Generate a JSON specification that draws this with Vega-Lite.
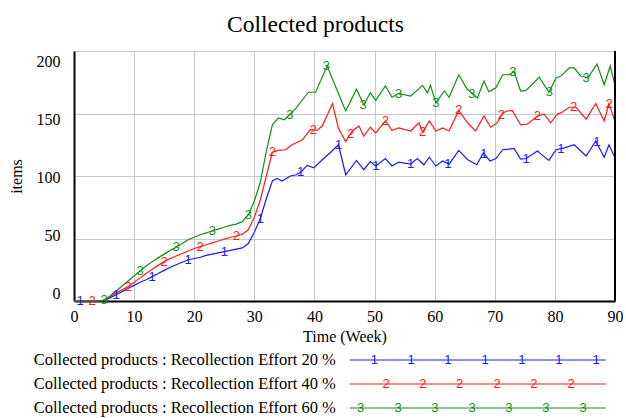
{
  "$schema": "https://vega.github.io/schema/vega-lite/v6.json",
  "padding": {"left": 8, "top": 12, "right": 0, "bottom": 0},
  "background": "white",
  "config": {
    "view": {"stroke": null},
    "font": "Liberation Serif",
    "axis": {"labelFont": "Liberation Serif", "titleFont": "Liberation Serif", "labelColor": "black", "titleColor": "black", "titleFontWeight": "normal"},
    "concat": {"spacing": 8}
  },
  "datasets": {
    "series": [
      {"s":"1","t":0,"v":0},{"s":"1","t":1,"v":0},{"s":"1","t":2,"v":0},{"s":"1","t":3,"v":0},{"s":"1","t":4,"v":0},{"s":"1","t":5,"v":0.5},{"s":"1","t":6,"v":2.5},{"s":"1","t":7,"v":5},{"s":"1","t":8,"v":7.5},{"s":"1","t":9,"v":10},{"s":"1","t":10,"v":12.5},{"s":"1","t":11,"v":15},{"s":"1","t":12,"v":17},{"s":"1","t":13,"v":19.5},{"s":"1","t":14,"v":22},{"s":"1","t":15,"v":24.5},{"s":"1","t":16,"v":27},{"s":"1","t":17,"v":29},{"s":"1","t":18,"v":31},{"s":"1","t":19,"v":33},{"s":"1","t":20,"v":34},{"s":"1","t":21,"v":35},{"s":"1","t":22,"v":36.5},{"s":"1","t":23,"v":37.5},{"s":"1","t":24,"v":38.5},{"s":"1","t":25,"v":39.5},{"s":"1","t":26,"v":40.5},{"s":"1","t":27,"v":41.5},{"s":"1","t":28,"v":42.5},{"s":"1","t":29,"v":46},{"s":"1","t":30,"v":55},{"s":"1","t":31,"v":66},{"s":"1","t":32,"v":82},{"s":"1","t":33,"v":96},{"s":"1","t":33.8,"v":98},{"s":"1","t":34.6,"v":96},{"s":"1","t":36,"v":100},{"s":"1","t":37,"v":101},{"s":"1","t":37.7,"v":103},{"s":"1","t":38.8,"v":108.5},{"s":"1","t":39.9,"v":106.5},{"s":"1","t":41.3,"v":113},{"s":"1","t":42.7,"v":119},{"s":"1","t":44,"v":125},{"s":"1","t":45.2,"v":101},{"s":"1","t":47,"v":112.5},{"s":"1","t":48.2,"v":105},{"s":"1","t":49.3,"v":111.5},{"s":"1","t":50.2,"v":108},{"s":"1","t":51.8,"v":114},{"s":"1","t":52.9,"v":108},{"s":"1","t":54,"v":111},{"s":"1","t":56,"v":109.5},{"s":"1","t":57.1,"v":114},{"s":"1","t":58.2,"v":109},{"s":"1","t":59.1,"v":115},{"s":"1","t":60.2,"v":108},{"s":"1","t":61.3,"v":112},{"s":"1","t":62.4,"v":109.5},{"s":"1","t":64,"v":120.5},{"s":"1","t":65.5,"v":113},{"s":"1","t":67,"v":109},{"s":"1","t":68.1,"v":118.5},{"s":"1","t":69.2,"v":112},{"s":"1","t":70.2,"v":114},{"s":"1","t":71.3,"v":121},{"s":"1","t":72.4,"v":121.5},{"s":"1","t":73.2,"v":122},{"s":"1","t":74.3,"v":113.5},{"s":"1","t":75.2,"v":114},{"s":"1","t":77.1,"v":120},{"s":"1","t":77.7,"v":117.5},{"s":"1","t":79,"v":112.5},{"s":"1","t":80.2,"v":121},{"s":"1","t":81.6,"v":122.5},{"s":"1","t":83.2,"v":125},{"s":"1","t":85.2,"v":116},{"s":"1","t":86.8,"v":128},{"s":"1","t":88.2,"v":115},{"s":"1","t":89,"v":125},{"s":"1","t":90,"v":114.5},
      {"s":"2","t":0,"v":0},{"s":"2","t":1,"v":0},{"s":"2","t":2,"v":0},{"s":"2","t":3,"v":0},{"s":"2","t":4,"v":0},{"s":"2","t":5,"v":0.5},{"s":"2","t":6,"v":3.5},{"s":"2","t":7,"v":6.5},{"s":"2","t":8,"v":9},{"s":"2","t":9,"v":11.5},{"s":"2","t":10,"v":15},{"s":"2","t":11,"v":18.5},{"s":"2","t":12,"v":22},{"s":"2","t":13,"v":25.5},{"s":"2","t":14,"v":28.5},{"s":"2","t":15,"v":31.5},{"s":"2","t":16,"v":34},{"s":"2","t":17,"v":36},{"s":"2","t":18,"v":38},{"s":"2","t":19,"v":40},{"s":"2","t":20,"v":42},{"s":"2","t":21,"v":43.5},{"s":"2","t":22,"v":45},{"s":"2","t":23,"v":46.5},{"s":"2","t":24,"v":48},{"s":"2","t":25,"v":49.5},{"s":"2","t":26,"v":51},{"s":"2","t":27,"v":52},{"s":"2","t":28,"v":53.5},{"s":"2","t":29,"v":57},{"s":"2","t":30,"v":67},{"s":"2","t":31,"v":81},{"s":"2","t":32,"v":100},{"s":"2","t":33,"v":119},{"s":"2","t":34,"v":120.5},{"s":"2","t":35.2,"v":121},{"s":"2","t":36.3,"v":125},{"s":"2","t":38,"v":129},{"s":"2","t":39.3,"v":137},{"s":"2","t":40.4,"v":136.5},{"s":"2","t":41.3,"v":140},{"s":"2","t":43,"v":158},{"s":"2","t":44,"v":138},{"s":"2","t":45.2,"v":127.5},{"s":"2","t":46.3,"v":136},{"s":"2","t":47.4,"v":140},{"s":"2","t":48.2,"v":132},{"s":"2","t":49.3,"v":139},{"s":"2","t":50.2,"v":134.5},{"s":"2","t":51.8,"v":144},{"s":"2","t":52.9,"v":136.5},{"s":"2","t":54,"v":138.5},{"s":"2","t":56,"v":136},{"s":"2","t":57.4,"v":142.5},{"s":"2","t":58,"v":135},{"s":"2","t":59.1,"v":144},{"s":"2","t":60.2,"v":136},{"s":"2","t":61.3,"v":138.5},{"s":"2","t":62.4,"v":136},{"s":"2","t":64,"v":152.5},{"s":"2","t":65.4,"v":143},{"s":"2","t":66.8,"v":136},{"s":"2","t":68.2,"v":148},{"s":"2","t":69.3,"v":139},{"s":"2","t":70.4,"v":142.5},{"s":"2","t":71.3,"v":150.5},{"s":"2","t":72.1,"v":152},{"s":"2","t":72.9,"v":152.5},{"s":"2","t":74.3,"v":141},{"s":"2","t":75.4,"v":141.5},{"s":"2","t":77.1,"v":148},{"s":"2","t":78.2,"v":149.5},{"s":"2","t":79.3,"v":142.5},{"s":"2","t":80.4,"v":149.5},{"s":"2","t":81,"v":150.5},{"s":"2","t":82.4,"v":155},{"s":"2","t":83.5,"v":155},{"s":"2","t":85.2,"v":145.5},{"s":"2","t":86.8,"v":158},{"s":"2","t":88.2,"v":144},{"s":"2","t":89,"v":158},{"s":"2","t":90,"v":143.5},
      {"s":"3","t":0,"v":0},{"s":"3","t":1,"v":0},{"s":"3","t":2,"v":0},{"s":"3","t":3,"v":0},{"s":"3","t":4,"v":0},{"s":"3","t":5,"v":0.5},{"s":"3","t":6,"v":4},{"s":"3","t":7,"v":8},{"s":"3","t":8,"v":12},{"s":"3","t":9,"v":16},{"s":"3","t":10,"v":20},{"s":"3","t":11,"v":24},{"s":"3","t":12,"v":28},{"s":"3","t":13,"v":31.5},{"s":"3","t":14,"v":34.5},{"s":"3","t":15,"v":37.5},{"s":"3","t":16,"v":40.5},{"s":"3","t":17,"v":43},{"s":"3","t":18,"v":46},{"s":"3","t":19,"v":49},{"s":"3","t":20,"v":51},{"s":"3","t":21,"v":53},{"s":"3","t":22,"v":54.5},{"s":"3","t":23,"v":56},{"s":"3","t":24,"v":57.5},{"s":"3","t":25,"v":59},{"s":"3","t":26,"v":60.5},{"s":"3","t":27,"v":61.5},{"s":"3","t":28,"v":63.5},{"s":"3","t":29,"v":69},{"s":"3","t":30,"v":80},{"s":"3","t":31,"v":95},{"s":"3","t":32,"v":120},{"s":"3","t":33,"v":141},{"s":"3","t":34,"v":146.5},{"s":"3","t":35,"v":145},{"s":"3","t":36.8,"v":153.5},{"s":"3","t":39,"v":167},{"s":"3","t":40.2,"v":167},{"s":"3","t":42.1,"v":188},{"s":"3","t":45.2,"v":152},{"s":"3","t":47,"v":169.5},{"s":"3","t":48.2,"v":157},{"s":"3","t":49.3,"v":166.5},{"s":"3","t":50.2,"v":160.5},{"s":"3","t":51.8,"v":172},{"s":"3","t":52.9,"v":163},{"s":"3","t":54,"v":166},{"s":"3","t":56,"v":164},{"s":"3","t":58,"v":172.5},{"s":"3","t":58.8,"v":166.5},{"s":"3","t":59.3,"v":172.5},{"s":"3","t":60.2,"v":158.5},{"s":"3","t":61.6,"v":168},{"s":"3","t":62.4,"v":163},{"s":"3","t":64,"v":181},{"s":"3","t":65.4,"v":169.5},{"s":"3","t":66,"v":167},{"s":"3","t":67.1,"v":162.5},{"s":"3","t":68.2,"v":176},{"s":"3","t":69,"v":167.5},{"s":"3","t":70.2,"v":170.5},{"s":"3","t":71.3,"v":181},{"s":"3","t":72.4,"v":181},{"s":"3","t":73.2,"v":183.5},{"s":"3","t":74.3,"v":168},{"s":"3","t":75.2,"v":168.5},{"s":"3","t":77.4,"v":179},{"s":"3","t":79,"v":167},{"s":"3","t":80.2,"v":178.5},{"s":"3","t":81,"v":180},{"s":"3","t":82.4,"v":186.5},{"s":"3","t":83.2,"v":186.5},{"s":"3","t":84.3,"v":180},{"s":"3","t":85.5,"v":178.5},{"s":"3","t":87,"v":189.5},{"s":"3","t":88.2,"v":173},{"s":"3","t":89.2,"v":188},{"s":"3","t":90,"v":173}
    ],
    "marks": [
      {"s":"1","t":1,"v":0},{"s":"1","t":7,"v":5},{"s":"1","t":13,"v":19.5},{"s":"1","t":19,"v":33},{"s":"1","t":25,"v":39.5},{"s":"1","t":31,"v":66},{"s":"1","t":37.7,"v":103},{"s":"1","t":44,"v":125},{"s":"1","t":50.2,"v":108},{"s":"1","t":56,"v":109.5},{"s":"1","t":62.2,"v":110},{"s":"1","t":68.2,"v":118},{"s":"1","t":75.2,"v":114},{"s":"1","t":81,"v":122},{"s":"1","t":87,"v":127},
      {"s":"2","t":3,"v":0},{"s":"2","t":9,"v":11.5},{"s":"2","t":15,"v":31.5},{"s":"2","t":21,"v":43.5},{"s":"2","t":27,"v":52},{"s":"2","t":33,"v":119},{"s":"2","t":39.8,"v":136.5},{"s":"2","t":46,"v":134},{"s":"2","t":51.8,"v":144},{"s":"2","t":58,"v":135},{"s":"2","t":64,"v":152.5},{"s":"2","t":71.1,"v":149},{"s":"2","t":77.1,"v":148},{"s":"2","t":83.1,"v":155},{"s":"2","t":89,"v":158},
      {"s":"3","t":5,"v":0.5},{"s":"3","t":11,"v":24},{"s":"3","t":17,"v":43},{"s":"3","t":23,"v":56},{"s":"3","t":29,"v":69},{"s":"3","t":35.9,"v":149},{"s":"3","t":42,"v":188},{"s":"3","t":48.1,"v":157},{"s":"3","t":54,"v":166},{"s":"3","t":60.2,"v":158.5},{"s":"3","t":66.2,"v":166},{"s":"3","t":73,"v":183.5},{"s":"3","t":79.1,"v":167},{"s":"3","t":85.2,"v":178.5}
    ],
    "legend": [
      {"s":"1","label":"Collected products : Recollection Effort 20 %"},
      {"s":"2","label":"Collected products : Recollection Effort 40 %"},
      {"s":"3","label":"Collected products : Recollection Effort 60 %"}
    ],
    "legendMarks": [
      {"s":"1","p":55.5},{"s":"1","p":62.3},{"s":"1","p":69.1},{"s":"1","p":76.0},{"s":"1","p":82.8},{"s":"1","p":89.6},{"s":"1","p":96.5},
      {"s":"2","p":57.7},{"s":"2","p":64.5},{"s":"2","p":71.3},{"s":"2","p":78.2},{"s":"2","p":85.0},{"s":"2","p":91.9},
      {"s":"3","p":53.0},{"s":"3","p":59.9},{"s":"3","p":66.7},{"s":"3","p":73.6},{"s":"3","p":80.4},{"s":"3","p":87.2},{"s":"3","p":94.1}
    ]
  },
  "vconcat": [
    {
      "title": {"text": "Collected products", "font": "Liberation Serif", "fontSize": 23.5, "fontWeight": "normal", "anchor": "middle", "frame": "bounds", "offset": 14, "color": "black"},
      "width": 541,
      "height": 250,
      "data": {"name": "series"},
      "layer": [
        {
          "mark": {"type": "line", "strokeWidth": 1.2},
          "encoding": {
            "x": {"field": "t", "type": "quantitative", "scale": {"domain": [0, 90], "nice": false},
              "axis": {"values": [0,5,10,15,20,25,30,35,40,45,50,55,60,65,70,75,80,85,90], "labelExpr": "datum.value % 10 === 0 ? datum.label : ''", "grid": true, "gridColor": "#c8c8c8", "ticks": false, "domainColor": "black", "domainWidth": 2, "labelFont": "Liberation Serif", "labelFontSize": 16, "labelFontWeight": "normal", "labelPadding": 7, "labelFlush": false, "title": "Time (Week)", "titleFont": "Liberation Serif", "titleFontSize": 16, "titleFontWeight": "normal", "titlePadding": 4}},
            "y": {"field": "v", "type": "quantitative", "scale": {"domain": [0, 200], "nice": false},
              "axis": {"values": [0,50,100,150,200], "grid": true, "gridColor": "#c8c8c8", "ticks": false, "domainColor": "black", "domainWidth": 2, "labelFont": "Liberation Serif", "labelFontSize": 16, "labelFontWeight": "normal", "labelPadding": 14, "labelFlush": false, "labelOffset": {"expr": "datum.value * 0.09 - 8"}, "title": "items", "titleFont": "Liberation Serif", "titleFontSize": 16, "titleFontWeight": "normal", "titlePadding": 12}},
            "color": {"field": "s", "type": "nominal", "scale": {"domain": ["1","2","3"], "range": ["#1a1aff","#ff1a1a","#139013"]}, "legend": null}
          }
        },
        {
          "data": {"name": "marks"},
          "mark": {"type": "text", "font": "Liberation Sans", "fontSize": 13, "baseline": "middle", "align": "center"},
          "encoding": {
            "x": {"field": "t", "type": "quantitative"},
            "y": {"field": "v", "type": "quantitative"},
            "text": {"field": "s"},
            "color": {"field": "s", "type": "nominal", "scale": {"domain": ["1","2","3"], "range": ["#1a1aff","#ff1a1a","#139013"]}, "legend": null}
          }
        },
        {
          "data": {"values": [{}]},
          "mark": {"type": "rule", "color": "black", "strokeWidth": 2},
          "encoding": {"x": {"datum": 90}, "y": {"datum": 0}, "y2": {"datum": 200}}
        }
      ]
    },
    {
      "width": 541,
      "height": 48,
      "layer": [
        {
          "data": {"name": "legend"},
          "mark": {"type": "text", "align": "right", "baseline": "middle", "font": "Liberation Serif", "fontSize": 16.5, "color": "black"},
          "encoding": {
            "x": {"datum": 48.4, "scale": {"domain": [0, 100]}, "axis": null},
            "y": {"field": "s", "type": "ordinal", "scale": {"type": "point", "padding": 0}, "axis": null},
            "text": {"field": "label"}
          }
        },
        {
          "data": {"name": "legend"},
          "mark": {"type": "rule", "strokeWidth": 1.2},
          "encoding": {
            "x": {"datum": 51},
            "x2": {"datum": 98.3},
            "y": {"field": "s", "type": "ordinal"},
            "color": {"field": "s", "type": "nominal", "scale": {"domain": ["1","2","3"], "range": ["#1a1aff","#ff1a1a","#139013"]}, "legend": null}
          }
        },
        {
          "data": {"name": "legendMarks"},
          "mark": {"type": "text", "font": "Liberation Sans", "fontSize": 13, "baseline": "middle", "align": "center"},
          "encoding": {
            "x": {"field": "p", "type": "quantitative"},
            "y": {"field": "s", "type": "ordinal"},
            "text": {"field": "s"},
            "color": {"field": "s", "type": "nominal", "scale": {"domain": ["1","2","3"], "range": ["#1a1aff","#ff1a1a","#139013"]}, "legend": null}
          }
        }
      ]
    }
  ]
}
